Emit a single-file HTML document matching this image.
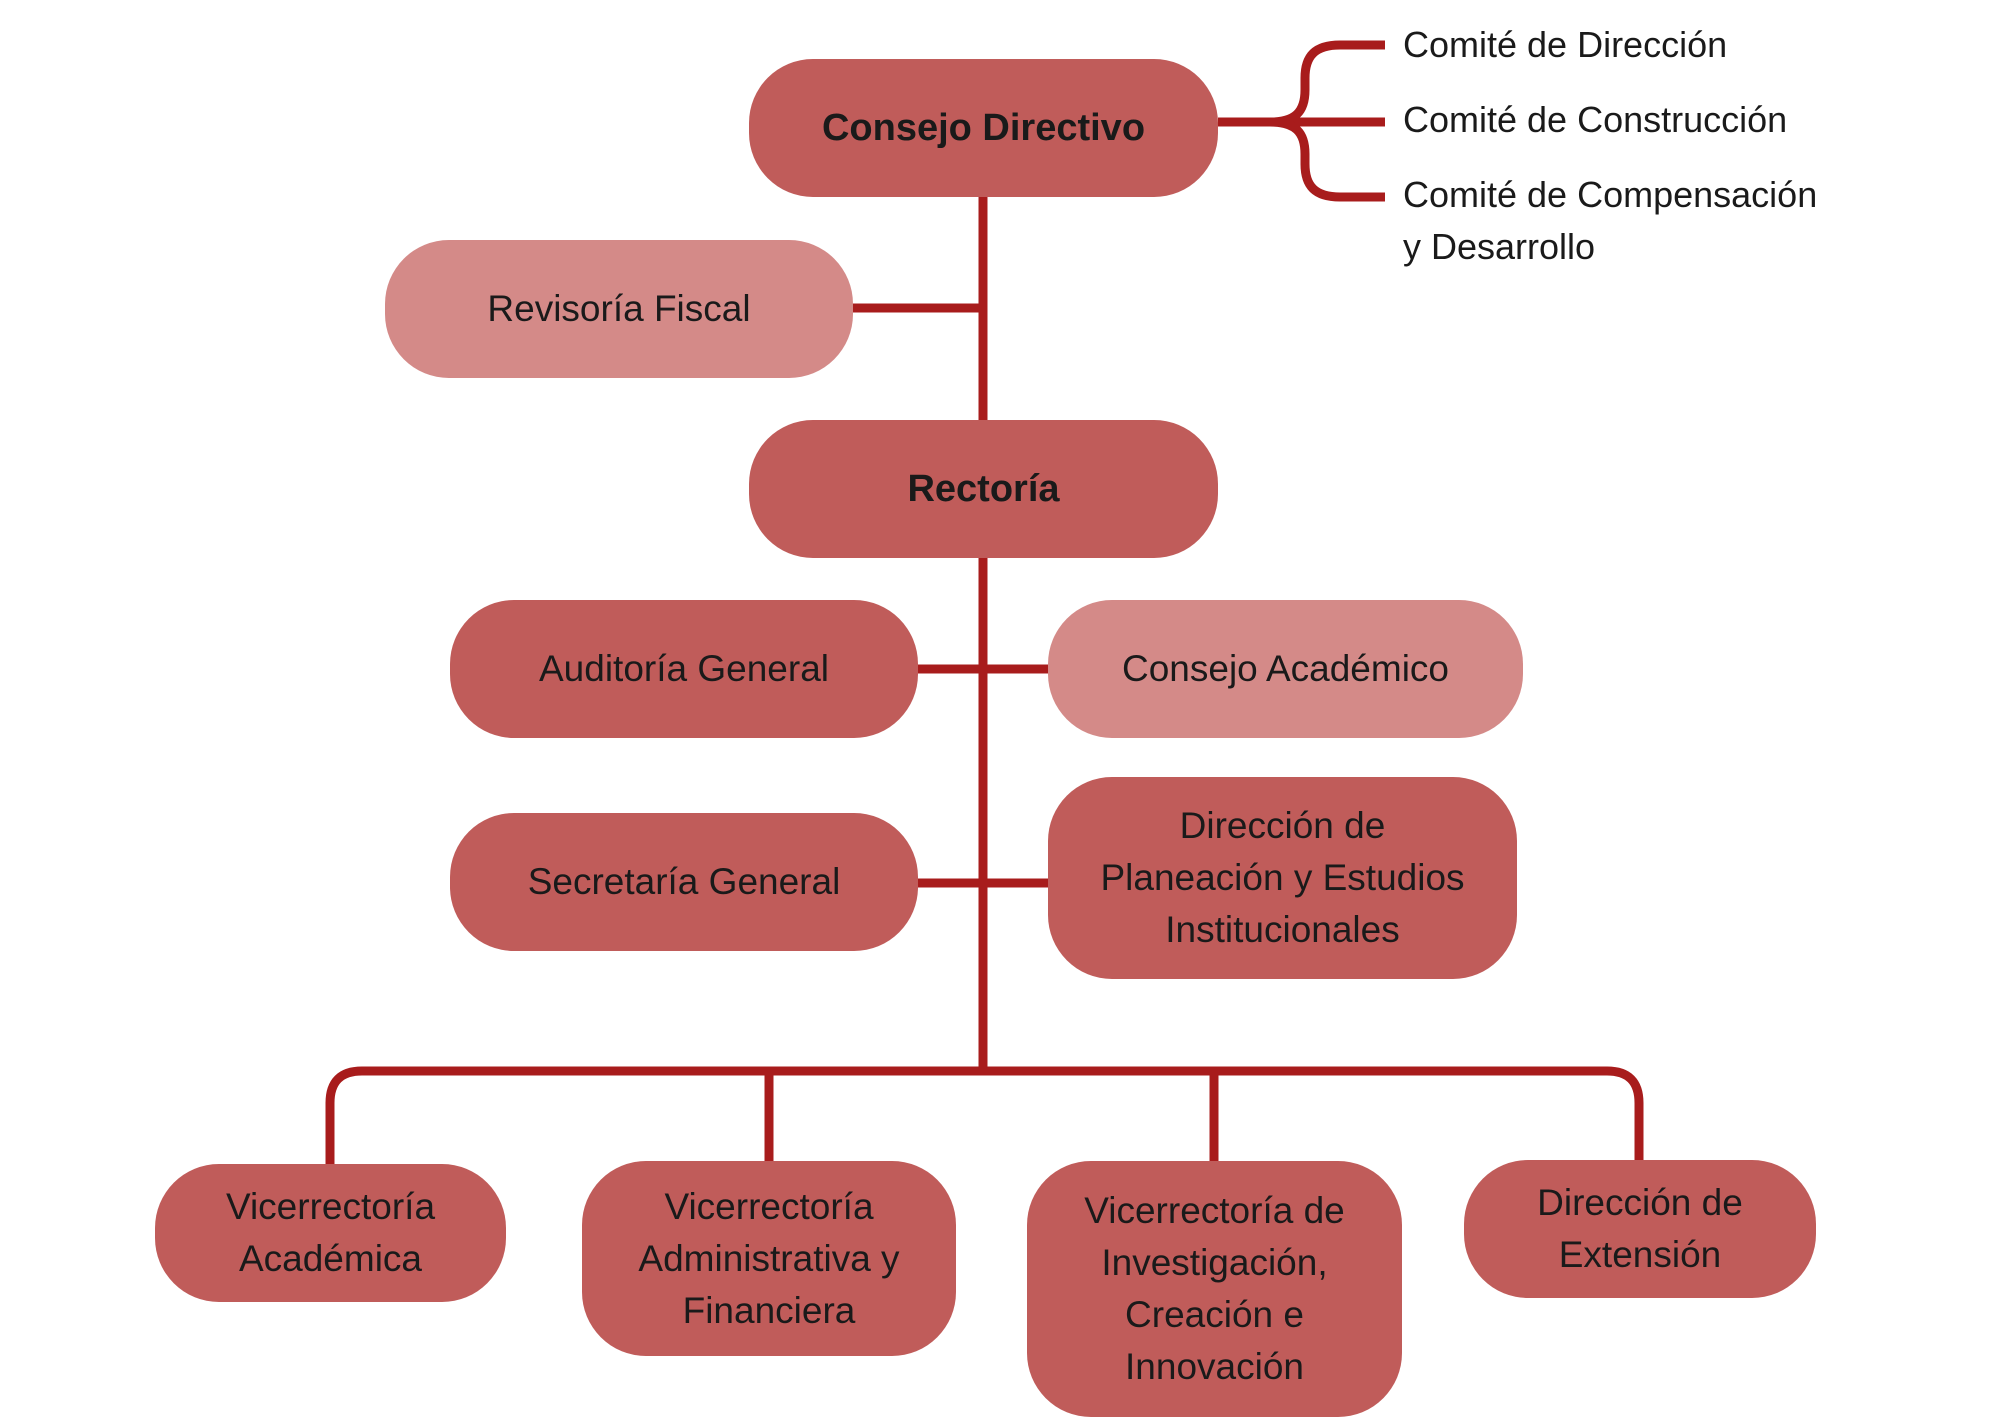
<!DOCTYPE html>
<html><head><meta charset="utf-8"><style>
body{margin:0;width:2000px;height:1414px;background:#fff;overflow:hidden;position:relative;font-family:"Liberation Sans",sans-serif;}
.b{position:absolute;background:#c05c5a;border-radius:64px;display:flex;align-items:center;justify-content:center;text-align:center;font-size:37px;line-height:52px;color:#1a1a1a;box-sizing:border-box}
.l{background:#d48a88}
.t{position:absolute;font-size:36px;color:#1a1a1a;left:1403px;line-height:52px}
svg{position:absolute;left:0;top:0}
</style></head><body>
<svg width="2000" height="1414">
<g stroke="#a81c1c" stroke-width="9" fill="none">
<path d="M983 197 V1071"/>
<path d="M853 308 H983"/>
<path d="M918 669 H1048"/>
<path d="M918 883 H1048"/>
<path d="M330 1164 V1103 Q330 1071 362 1071 H1607 Q1639 1071 1639 1103 V1160"/>
<path d="M769 1071 V1161"/>
<path d="M1214 1071 V1161"/>
<path d="M1218 122 H1385"/>
<path d="M1270 122 C1295 122 1305 112 1305 90 V78 C1305 56 1315 45 1340 45 H1385"/>
<path d="M1270 122 C1295 122 1305 132 1305 154 V164 C1305 186 1315 197 1340 197 H1385"/>
</g></svg>
<div class="b" style="left:749px;top:59px;width:469px;height:138px;font-weight:bold;font-size:38px">Consejo Directivo</div>
<div class="b l" style="left:385px;top:240px;width:468px;height:138px">Revisoría Fiscal</div>
<div class="b" style="left:749px;top:420px;width:469px;height:138px;font-weight:bold;font-size:38px">Rectoría</div>
<div class="b" style="left:450px;top:600px;width:468px;height:138px">Auditoría General</div>
<div class="b l" style="left:1048px;top:600px;width:475px;height:138px">Consejo Académico</div>
<div class="b" style="left:450px;top:813px;width:468px;height:138px">Secretaría General</div>
<div class="b" style="left:1048px;top:777px;width:469px;height:202px">Dirección de<br>Planeación y Estudios<br>Institucionales</div>
<div class="b" style="left:155px;top:1164px;width:351px;height:138px">Vicerrectoría<br>Académica</div>
<div class="b" style="left:582px;top:1161px;width:374px;height:195px">Vicerrectoría<br>Administrativa y<br>Financiera</div>
<div class="b" style="left:1027px;top:1161px;width:375px;height:256px">Vicerrectoría de<br>Investigación,<br>Creación e<br>Innovación</div>
<div class="b" style="left:1464px;top:1160px;width:352px;height:138px">Dirección de<br>Extensión</div>
<div class="t" style="top:19px">Comité de Dirección</div>
<div class="t" style="top:94px">Comité de Construcción</div>
<div class="t" style="top:169px">Comité de Compensación<br>y Desarrollo</div>
</body></html>
